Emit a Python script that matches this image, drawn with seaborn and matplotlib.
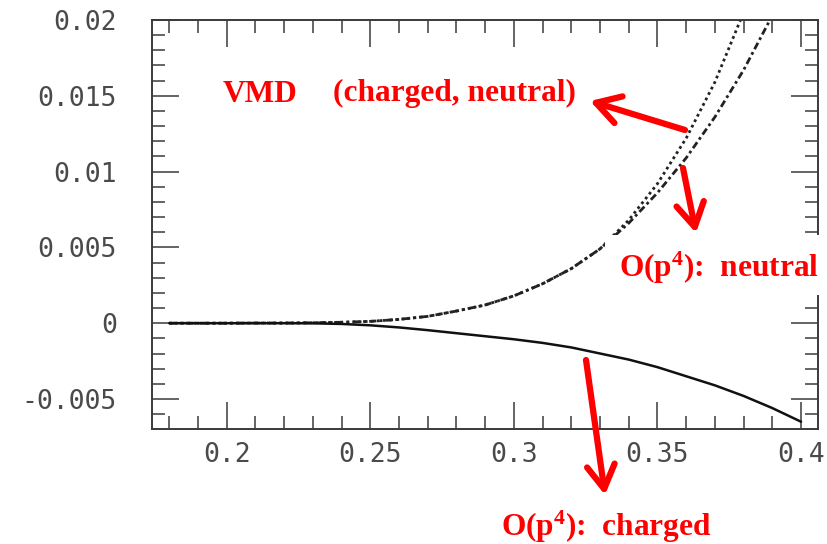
import numpy as np
import pandas as pd
import matplotlib
matplotlib.use("Agg")
import matplotlib.pyplot as plt
from matplotlib.patches import Rectangle
from matplotlib.ticker import FixedLocator, MultipleLocator
import seaborn as sns

# invariant mass grid (GeV)
mass = [0.18, 0.19, 0.20, 0.21, 0.22, 0.23, 0.24, 0.25, 0.26, 0.27, 0.28,
        0.29, 0.30, 0.31, 0.32, 0.33, 0.34, 0.35, 0.36, 0.37, 0.38, 0.39, 0.40]

# VMD prediction (charged and neutral coincide)
vmd = [0.0, 0.0, 0.0, 0.00001, 0.00001, 0.00003, 0.00006, 0.00012, 0.00025,
       0.00045, 0.0008, 0.0012, 0.0018, 0.0026, 0.0036, 0.0049, 0.0068,
       0.0092, 0.0122, 0.0159, 0.0205, 0.0258, 0.0320]

# O(p^4) chiral prediction, neutral channel
op4_neutral = [0.0, 0.0, 0.0, 0.00001, 0.00001, 0.00003, 0.00006, 0.00012,
               0.00025, 0.00045, 0.0008, 0.0012, 0.0018, 0.0026, 0.0036,
               0.0049, 0.0066, 0.0086, 0.0109, 0.0136, 0.0167, 0.0203, 0.0243]

# O(p^4) chiral prediction, charged channel
op4_charged = [0.0, 0.0, 0.0, 0.0, 0.0, -0.00001, -0.00005, -0.00014,
               -0.00028, -0.00046, -0.00066, -0.00086, -0.00106, -0.0013,
               -0.0016, -0.0020, -0.0024, -0.0029, -0.0035, -0.0041,
               -0.0048, -0.0056, -0.0065]

x_ticks = [0.2, 0.25, 0.3, 0.35, 0.4]
x_labels = ["0.2", "0.25", "0.3", "0.35", "0.4"]
y_ticks = [-0.005, 0.0, 0.005, 0.01, 0.015, 0.02]
y_labels = ["-0.005", "0", "0.005", "0.01", "0.015", "0.02"]

sns.set_style("ticks")
plt.rcParams["mathtext.fontset"] = "custom"
plt.rcParams["mathtext.rm"] = "Liberation Serif:bold"
plt.rcParams["mathtext.bf"] = "Liberation Serif:bold"
plt.rcParams["mathtext.it"] = "Liberation Serif:bold"

W, H = 827, 544
fig = plt.figure(figsize=(W / 100, H / 100), dpi=100)
ax = fig.add_axes([151.7 / W, 1 - 429 / H, (817.7 - 151.7) / W, (429 - 20) / H])

df = pd.DataFrame({"m": mass, "vmd": vmd, "neu": op4_neutral, "chg": op4_charged})

sns.lineplot(data=df, x="m", y="vmd", ax=ax, color="#222222", lw=2.0,
             linestyle=(0, (1.0, 1.2)))
sns.lineplot(data=df, x="m", y="neu", ax=ax, color="#222222", lw=2.0,
             linestyle=(0, (2.6, 1.2, 1.0, 1.2)))
sns.lineplot(data=df, x="m", y="chg", ax=ax, color="#111111", lw=1.8,
             linestyle="-")

ax.set_xlim(0.1739, 0.4058)
ax.set_ylim(-0.00698, 0.02)
ax.set_xlabel("")
ax.set_ylabel("")

ax.xaxis.set_major_locator(FixedLocator(x_ticks))
ax.set_xticklabels(x_labels)
ax.yaxis.set_major_locator(FixedLocator(y_ticks))
ax.set_yticklabels(y_labels)
ax.xaxis.set_minor_locator(MultipleLocator(0.01))
ax.yaxis.set_minor_locator(MultipleLocator(0.001))

tick_color = "#3a3a3a"
ax.tick_params(which="both", direction="in", top=True, right=True,
               color=tick_color, width=1.1)
ax.tick_params(which="major", length=19.5)
ax.tick_params(which="minor", length=9.7)
ax.tick_params(axis="x", which="major", pad=9, labelsize=19,
               labelcolor="#4a4a4a")
ax.tick_params(axis="y", which="major", pad=25, labelsize=19,
               labelcolor="#4a4a4a")
for lab in ax.get_xticklabels() + ax.get_yticklabels():
    lab.set_family("DejaVu Sans Mono")

for side in ax.spines.values():
    side.set_color(tick_color)
    side.set_linewidth(1.4)
    side.set_visible(True)

# white label panel that sits over the right edge of the plot
fig.patches.append(Rectangle((605 / W, 1 - 295 / H), (W - 605) / W, 60 / H,
                             transform=fig.transFigure, facecolor="white",
                             edgecolor="none", zorder=5))

# red annotations in figure pixel coordinates
red = "#ff0000"
txt = dict(color=red, fontsize=22.6, fontweight="bold",
           family="Liberation Serif", va="baseline", ha="left", zorder=6)
fig.text(223 / W, 1 - 102 / H, "VMD", **txt)
fig.text(333 / W, 1 - 101 / H, "(charged, neutral)", **txt)
fig.text(619 / W, 1 - 277 / H, "O(p$^{4}$):  neutral", **txt)
fig.text(501 / W, 1 - 536 / H, "O(p$^{4}$):  charged", **txt)

arrow = dict(arrowstyle="->,head_length=1.7,head_width=1.0",
             color=red, lw=4.5, mutation_scale=10, shrinkA=0, shrinkB=0)
for (x0, y0), (x1, y1) in [((685, 130), (590, 101)),
                           ((683, 168), (696, 233)),
                           ((586, 360), (605, 495))]:
    ax.annotate("", xy=(x1, H - y1), xycoords="figure pixels",
                xytext=(x0, H - y0), textcoords="figure pixels",
                arrowprops=arrow, annotation_clip=False)

fig.savefig("out.png", dpi=100)
